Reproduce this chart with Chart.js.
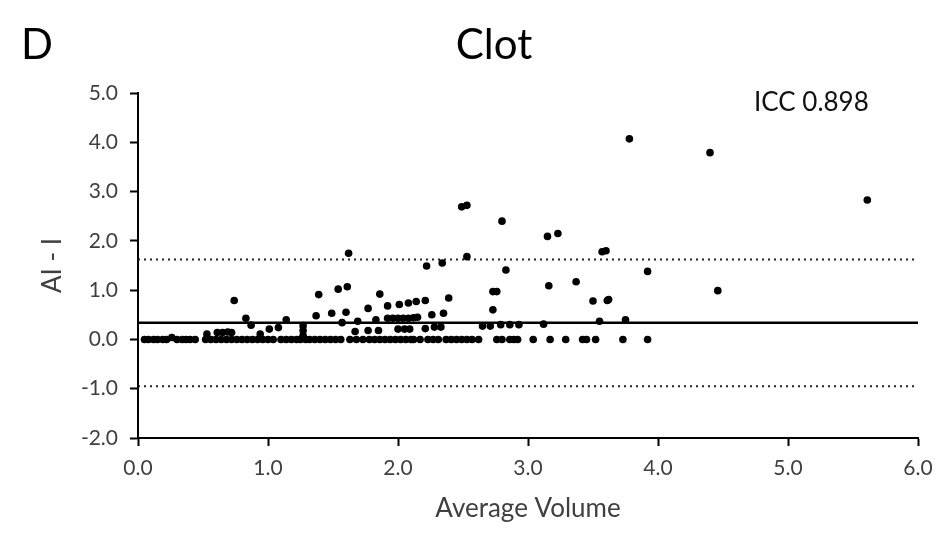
<!DOCTYPE html>
<html>
<head>
<meta charset="utf-8">
<script src="https://cdn.jsdelivr.net/npm/chart.js@4"></script>
<style>
  html, body { margin: 0; padding: 0; background: #fff; }
  #wrap { width: 947px; height: 534px; position: relative; }
</style>
</head>
<body>
<div id="wrap"><canvas id="c" width="947" height="534"></canvas></div>
<script>
// ---- Data ----
const panelLabel = "D";
const chartTitle = "Clot";
const iccText = "ICC 0.898";
const xAxisTitle = "Average Volume";
const yAxisTitle = "AI - I";

const avgVolume = [
  // points on the zero line
  0.05, 0.08, 0.12, 0.15, 0.19, 0.22, 0.30, 0.34, 0.37, 0.40, 0.44,
  0.52, 0.56, 0.60, 0.64, 0.68, 0.72, 0.76, 0.80, 0.84, 0.88, 0.92, 0.96, 1.00, 1.04,
  1.10, 1.14, 1.18, 1.22, 1.25, 1.29, 1.32, 1.36, 1.40, 1.44, 1.48, 1.52, 1.56,
  1.63, 1.68, 1.73, 1.78, 1.82, 1.86, 1.90, 1.94, 1.98, 2.02, 2.06, 2.10, 2.12,
  2.17, 2.23, 2.27, 2.31, 2.37, 2.41, 2.45, 2.49, 2.53, 2.57, 2.62,
  2.76, 2.80, 2.86, 2.89, 2.92, 3.04, 3.17, 3.29, 3.42, 3.45, 3.52, 3.73, 3.92,
  // small differences
  0.26, 0.53, 0.61, 0.65, 0.69, 0.72, 0.94, 1.01, 1.08, 1.27, 1.27, 1.27,
  // the rest
  0.74, 0.83, 0.87, 1.14, 1.37, 1.39, 1.49, 1.54, 1.57, 1.60, 1.61, 1.62,
  1.67, 1.69, 1.77, 1.77, 1.83, 1.85, 1.86, 1.92, 1.92, 1.96, 2.00, 2.04,
  2.08, 2.12, 2.15, 2.00, 2.05, 2.09, 2.01, 2.08, 2.14, 2.21, 2.21, 2.22,
  2.26, 2.28, 2.33, 2.34, 2.35, 2.39, 2.49, 2.53, 2.53, 2.65, 2.71, 2.73,
  2.73, 2.76, 2.79, 2.80, 2.83, 2.86, 2.93, 3.12, 3.15, 3.16, 3.23, 3.37,
  3.50, 3.55, 3.57, 3.60, 3.61, 3.62, 3.75, 3.78, 3.92, 4.40, 4.46, 5.61
];
const aiMinusI = [
  0, 0, 0, 0, 0, 0, 0, 0, 0, 0, 0,
  0, 0, 0, 0, 0, 0, 0, 0, 0, 0, 0, 0, 0, 0,
  0, 0, 0, 0, 0, 0, 0, 0, 0, 0, 0, 0, 0,
  0, 0, 0, 0, 0, 0, 0, 0, 0, 0, 0, 0, 0,
  0, 0, 0, 0, 0, 0, 0, 0, 0, 0, 0,
  0, 0, 0, 0, 0, 0, 0, 0, 0, 0, 0, 0, 0,
  0.04, 0.11, 0.14, 0.14, 0.15, 0.14, 0.11, 0.21, 0.24, 0.08, 0.18, 0.28,
  0.79, 0.43, 0.29, 0.40, 0.48, 0.91, 0.53, 1.02, 0.34, 0.55, 1.07, 1.75,
  0.16, 0.37, 0.63, 0.18, 0.40, 0.18, 0.92, 0.68, 0.43, 0.43, 0.43, 0.43,
  0.43, 0.44, 0.45, 0.21, 0.21, 0.21, 0.71, 0.74, 0.77, 0.79, 0.22, 1.49,
  0.50, 0.25, 0.25, 1.55, 0.53, 0.84, 2.69, 2.72, 1.68, 0.27, 0.27, 0.60,
  0.97, 0.97, 0.30, 2.40, 1.41, 0.30, 0.30, 0.31, 2.09, 1.09, 2.15, 1.17,
  0.78, 0.37, 1.78, 1.80, 0.79, 0.81, 0.40, 4.07, 1.38, 3.79, 0.99, 2.83
];

const meanDiff = 0.34;
const upperLoA = 1.62;
const lowerLoA = -0.95;
const xRange = [0, 6];
const yRange = [-2, 5];

// ---- Build datasets from the arrays ----
const scatterPoints = avgVolume.map((x, i) => ({ x: x, y: aiMinusI[i] }));
const hLine = (v) => xRange.map(x => ({ x: x, y: v }));

const FONT = "Lato, 'Open Sans', sans-serif";
const TEXT_COLOR = "#404040";

const annotPlugin = {
  id: "annot",
  afterDraw(chart) {
    const ctx = chart.ctx;
    const area = chart.chartArea;
    ctx.save();
    ctx.fillStyle = "#000";
    ctx.textBaseline = "middle";
    ctx.font = "42px " + FONT;
    ctx.textAlign = "left";
    ctx.fillText(panelLabel, 21, 45);
    ctx.textAlign = "center";
    ctx.fillText(chartTitle, 494, 45);
    ctx.font = "26px " + FONT;
    ctx.fillStyle = "#111";
    ctx.textAlign = "left";
    ctx.fillText(iccText, area.left + 616, area.top + 10);
    ctx.restore();
  }
};

new Chart(document.getElementById("c"), {
  type: "scatter",
  data: {
    datasets: [
      {
        type: "line", label: "Mean", data: hLine(meanDiff),
        borderColor: "#000", borderWidth: 2.5, pointRadius: 0, fill: false, order: 2
      },
      {
        type: "line", label: "Upper LoA", data: hLine(upperLoA),
        borderColor: "#222", borderWidth: 2, borderDash: [2, 4], pointRadius: 0, fill: false, order: 2
      },
      {
        type: "line", label: "Lower LoA", data: hLine(lowerLoA),
        borderColor: "#222", borderWidth: 2, borderDash: [2, 4], pointRadius: 0, fill: false, order: 2
      },
      {
        label: "Clot", data: scatterPoints,
        backgroundColor: "#000", borderColor: "#000", borderWidth: 0,
        pointRadius: 3.8, pointHoverRadius: 3.8, order: 1
      }
    ]
  },
  plugins: [annotPlugin],
  options: {
    responsive: false,
    animation: false,
    events: [],
    layout: { padding: { top: 93, right: 29, bottom: 0, left: 0 } },
    plugins: {
      legend: { display: false },
      title: { display: false },
      tooltip: { enabled: false }
    },
    scales: {
      x: {
        type: "linear",
        min: xRange[0], max: xRange[1],
        afterFit(s) { s.height = 96; },
        border: { display: true, color: "#000", width: 2 },
        grid: { drawOnChartArea: false, drawTicks: true, tickLength: 8, tickWidth: 2, tickColor: "#000" },
        ticks: {
          stepSize: 1, padding: 10, color: TEXT_COLOR,
          font: { family: FONT, size: 21 },
          callback: (v) => Number(v).toFixed(1)
        },
        title: {
          display: true, text: xAxisTitle, color: TEXT_COLOR,
          font: { family: FONT, size: 26 },
          padding: { top: 0, bottom: 10 }
        }
      },
      y: {
        type: "linear",
        min: yRange[0], max: yRange[1],
        afterFit(s) { s.width = 138; },
        border: { display: true, color: "#000", width: 2 },
        grid: { drawOnChartArea: false, drawTicks: true, tickLength: 8, tickWidth: 2, tickColor: "#000" },
        ticks: {
          stepSize: 1, padding: 12, color: TEXT_COLOR,
          font: { family: FONT, size: 21 },
          callback: (v) => Number(v).toFixed(1)
        },
        title: {
          display: true, text: yAxisTitle, color: TEXT_COLOR,
          font: { family: FONT, size: 26 },
          padding: { top: 37, bottom: 0 }
        }
      }
    }
  }
});
</script>
</body>
</html>
